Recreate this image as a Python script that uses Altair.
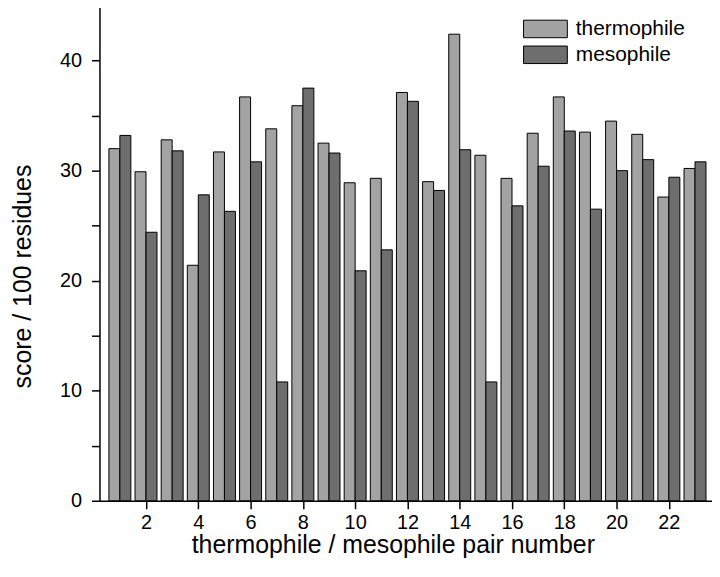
import altair as alt
import pandas as pd

pairs = list(range(1, 24))
thermophile = [32.0, 29.9, 32.8, 21.4, 31.7, 36.7, 33.8, 35.9, 32.5, 28.9, 29.3, 37.1,
               29.0, 42.4, 31.4, 29.3, 33.4, 36.7, 33.5, 34.5, 33.3, 27.6, 30.2]
mesophile = [33.2, 24.4, 31.8, 27.8, 26.3, 30.8, 10.8, 37.5, 31.6, 20.9, 22.8, 36.3,
             28.2, 31.9, 10.8, 26.8, 30.4, 33.6, 26.5, 30.0, 31.0, 29.4, 30.8]
x_ticks = list(range(2, 23, 2))
y_ticks = list(range(0, 46, 5))
series_names = ["thermophile", "mesophile"]
series_colors = ["#a3a3a3", "#6e6e6e"]

rows = []
for i, p in enumerate(pairs):
    rows.append({"pair": p, "series": "thermophile", "score": thermophile[i], "side": 0})
    rows.append({"pair": p, "series": "mesophile", "score": mesophile[i], "side": 1})
df = pd.DataFrame(rows)

FONT = "Liberation Sans"
bar_w = 0.42

chart = alt.Chart(df).transform_calculate(
    x0=f"datum.pair - {bar_w} + datum.side * {bar_w}",
    x1=f"datum.pair + datum.side * {bar_w}",
).mark_bar(stroke="black", strokeWidth=1, opacity=1).encode(
    x=alt.X(
        "x0:Q",
        scale=alt.Scale(domain=[0.22, 23.65], nice=False, zero=False),
        axis=alt.Axis(
            values=x_ticks, title="thermophile / mesophile pair number",
            tickSize=8, labelPadding=4, titlePadding=0, format="d",
            titleX=295,
        ),
    ),
    x2="x1:Q",
    y=alt.Y(
        "score:Q", stack=None,
        scale=alt.Scale(domain=[0, 45], nice=False),
        axis=alt.Axis(
            values=y_ticks, title="score / 100 residues",
            labelExpr="datum.value % 10 == 0 ? datum.label : ''",
            tickSize=8, labelPadding=10, titlePadding=24, titleY=272,
        ),
    ),
    y2=alt.datum(0),
    color=alt.Color(
        "series:N",
        scale=alt.Scale(domain=series_names, range=series_colors),
        legend=alt.Legend(
            title=None, orient="none", legendX=438, legendY=13,
            symbolType="M-2.5,-1H2.5V1H-2.5Z", symbolSize=310,
            symbolStrokeColor="black", symbolStrokeWidth=1, symbolOpacity=1,
            labelFontSize=21, labelFont=FONT, labelColor="black", labelOffset=20,
            padding=0, rowPadding=3,
        ),
    ),
).properties(
    width=616, height=498,
    autosize=alt.AutoSizeParams(type="none"),
    padding={"left": 92, "top": -4, "right": 0, "bottom": 57},
).configure_view(stroke=None).configure_axis(
    grid=False, domainColor="black", domainWidth=1.5, tickColor="black", tickWidth=1.5,
    labelFont=FONT, labelFontSize=20, labelColor="black",
    titleFont=FONT, titleFontSize=25, titleFontWeight="normal", titleColor="black",
)

chart.save("out.html", embed_options={"renderer": "svg", "actions": False})
